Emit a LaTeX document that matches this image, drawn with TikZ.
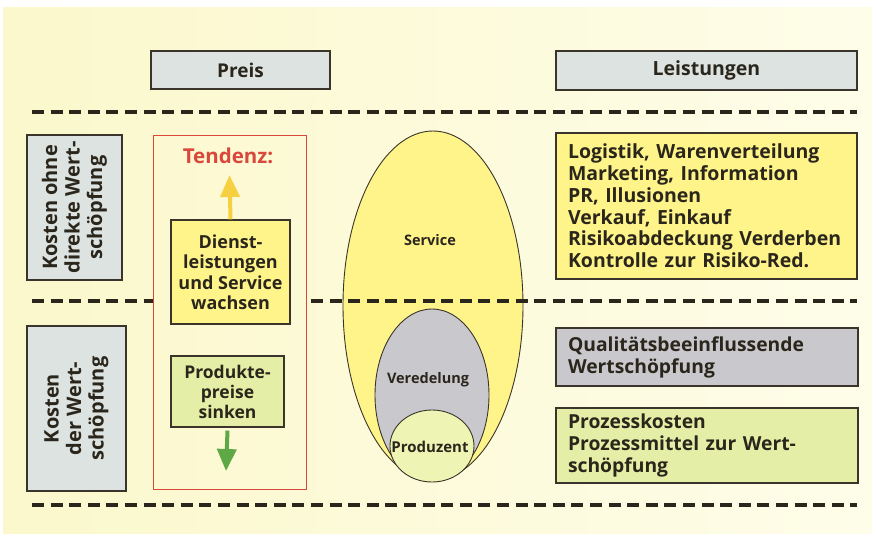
\documentclass[tikz,border=0pt]{standalone}
\usepackage{fontspec}
\setmainfont{Open Sans}
\usetikzlibrary{shapes.geometric,arrows.meta}
\definecolor{bgL}{HTML}{FBF8CC}
\definecolor{bgR}{HTML}{FEFDE9}
\definecolor{ink}{HTML}{2B261C}
\definecolor{edge}{HTML}{3A342A}
\definecolor{hdr}{HTML}{DCE3E0}
\definecolor{yel}{HTML}{FFF48A}
\definecolor{grn}{HTML}{E4EEA6}
\definecolor{grnlt}{HTML}{EEF5B4}
\definecolor{gry}{HTML}{C9C8CD}
\definecolor{redc}{HTML}{D9483B}
\definecolor{arrY}{HTML}{F6D040}
\definecolor{arrG}{HTML}{5EA945}
\begin{document}
\begin{tikzpicture}[x=1pt,y=-1pt,
  box/.style={draw=edge,line width=1.1pt,inner sep=0pt,rectangle},
  sep/.style={draw=ink,line width=3.6pt,dash pattern=on 12pt off 6.6pt},
  txt/.style={text=ink,font=\bfseries},
  oval/.style={draw=edge,line width=0.9pt,ellipse,inner sep=0pt},
  tarrow/.style={line width=4pt,-{Triangle[width=19pt,length=22pt]}}
]
\useasboundingbox (0,0) rectangle (876,538);
\shade[left color=bgL,right color=bgR] (3,7) rectangle (872,533);

% separators
\coordinate (t1) at (32,112); \coordinate (t2) at (857,112);
\coordinate (b1) at (32,505); \coordinate (b2) at (857,505);
\draw[sep] (t1) -- (t2);
\draw[sep] (b1) -- (b2);

% headers
\node[box,fill=hdr,minimum width=179pt,minimum height=38pt,txt,font=\bfseries\fontsize{19}{22}\selectfont] (preis) at (240.5,70) {Preis};
\node[box,fill=hdr,minimum width=301pt,minimum height=39pt,txt,font=\bfseries\fontsize{19.5}{22}\selectfont] (leist) at (706.5,70.5) {Leistungen};

% ovals
\node[oval,fill=yel,minimum width=180pt,minimum height=349pt] (service) at (433,305.5) {};
\node[oval,fill=gry,minimum width=114pt,minimum height=172pt] (vered) at (432,395) {};
\node[oval,fill=grnlt,minimum width=84pt,minimum height=72pt] (prod) at (432,446) {};
\node[txt,font=\bfseries\fontsize{14.5}{16}\selectfont] (servl) at (430,240) {Service};
\node[txt,font=\bfseries\fontsize{14.5}{16}\selectfont] (veredl) at (428,380) {Veredelung};
\node[txt,font=\bfseries\fontsize{15}{16}\selectfont] (prodl) at (430,447) {Produzent};

% middle separator
\coordinate (m1) at (32,301); \coordinate (m2) at (153,301);
\coordinate (m3) at (311,301); \coordinate (m4) at (857,301);
\draw[sep] (m1) -- (m2);
\draw[sep] (m3) -- (m4);

% left boxes
\node[box,fill=hdr,minimum width=95pt,minimum height=145pt] (k1) at (74.5,207.5) {};
\node[txt,rotate=90,align=center,font=\bfseries\fontsize{20}{22.5}\selectfont] (k1t) at (k1.center) {Kosten ohne\\direkte Wert-\\schöpfung};
\node[box,fill=hdr,minimum width=99pt,minimum height=165pt] (k2) at (76.5,408.5) {};
\node[txt,rotate=90,align=center,font=\bfseries\fontsize{20}{22.5}\selectfont] (k2t) at (k2.center) {Kosten\\der Wert-\\schöpfung};

% tendency box
\node[draw=redc,line width=0.9pt,rectangle,minimum width=153pt,minimum height=354pt] (tend) at (229.5,312) {};
\node[text=redc,font=\bfseries\fontsize{20.5}{22}\selectfont] (tendl) at (228,156) {Tendenz:};
\node[box,fill=yel,minimum width=119pt,minimum height=104pt,txt,align=center,font=\bfseries\fontsize{18}{20.5}\selectfont] (dienst) at (230.5,272) {Dienst-\\leistungen\\und Service\\wachsen};
\node[box,fill=grn,minimum width=113pt,minimum height=71pt,txt,align=center,font=\bfseries\fontsize{17.5}{20}\selectfont] (produkte) at (227.5,391.5) {Produkte-\\preise\\sinken};
\coordinate (uptip) at (229.5,175);
\coordinate (downtip) at (226,471);
\draw[tarrow,draw=arrY,fill=arrY] (dienst.north) -- (uptip);
\draw[tarrow,draw=arrG,fill=arrG] ([yshift=-3pt]produkte.south) -- (downtip);

% right boxes
\node[box,fill=yel,minimum width=301pt,minimum height=146pt,txt,align=left,text width=277pt,inner xsep=12pt,font=\bfseries\fontsize{19.5}{21.8}\selectfont] (list) at (706.5,206) {Logistik, Warenverteilung\\Marketing, Information\\PR, Illusionen\\Verkauf, Einkauf\\Risikoabdeckung Verderben\\Kontrolle zur Risiko-Red.};
\node[box,fill=gry,minimum width=302pt,minimum height=58pt,txt,align=left,text width=278pt,inner xsep=12pt,font=\bfseries\fontsize{19.3}{22}\selectfont] (qual) at (707,357) {Qualitätsbeeinflussende\\Wertschöpfung};
\node[box,fill=grn,minimum width=302pt,minimum height=75pt,txt,align=left,text width=278pt,inner xsep=12pt,font=\bfseries\fontsize{19.3}{22}\selectfont] (proz) at (707,445.5) {Prozesskosten\\Prozessmittel zur Wert-\\schöpfung};
\end{tikzpicture}
\end{document}
